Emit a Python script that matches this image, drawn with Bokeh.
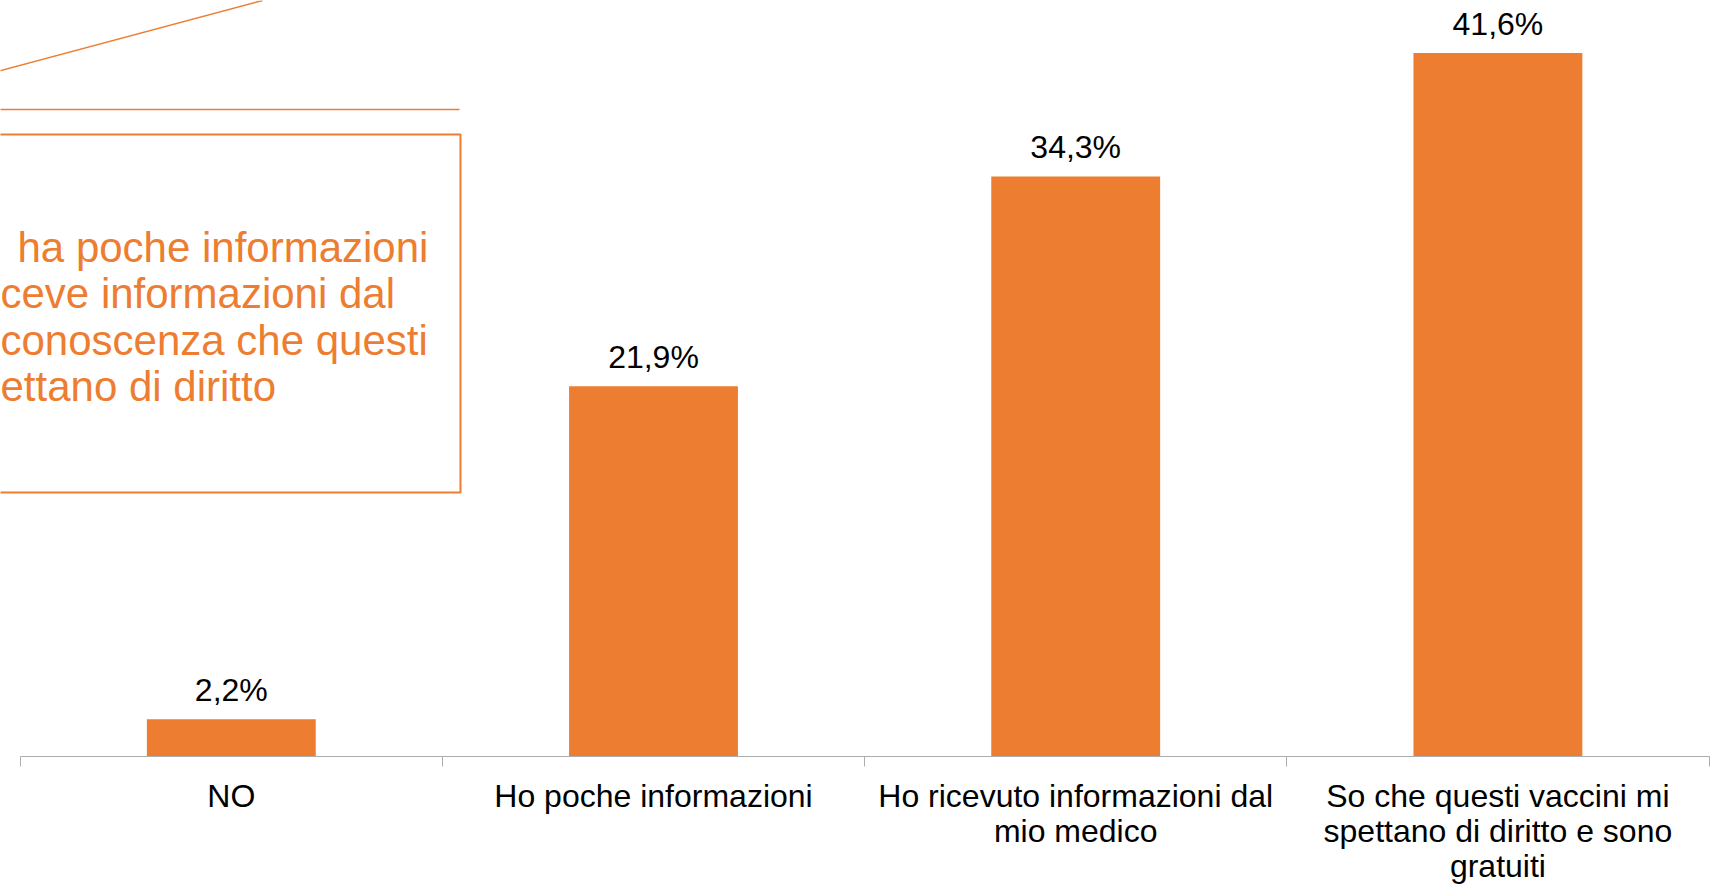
import numpy as np
from bokeh.plotting import figure
from bokeh.core.properties import value
from bokeh.models import (ColumnDataSource, Range1d, LinearAxis, FixedTicker, LabelSet,
                          Label, BoxAnnotation, Arrow)
from bokeh.embed import file_html
from bokeh.resources import INLINE

# ---------------- data ----------------
categories = [
    "NO",
    "Ho poche informazioni",
    "Ho ricevuto informazioni dal\nmio medico",
    "So che questi vaccini mi\nspettano di diritto e sono\ngratuiti",
]
values = [2.2, 21.9, 34.3, 41.6]
value_labels = ["2,2%", "21,9%", "34,3%", "41,6%"]
note_lines = ["ha poche informazioni", "ceve informazioni dal",
              "conoscenza che questi", "ettano di diritto"]

# ---------------- layout / style ----------------
W, H = 1714, 887
LEFT_PAD = 19.7        # px from canvas left to first category boundary
UNIT_PX = 422.2        # px per category
BB = 131
PPU = 16.91            # px per percentage point
ORANGE = "#ED7D31"
AXIS_GRAY = "#ADADAD"
FONT = "Liberation Sans"

n = len(categories)
xs = np.arange(n) + 0.5
FRAME_H = H - BB
Y_END = FRAME_H / PPU

p = figure(width=W, height=H,
           x_range=Range1d(-LEFT_PAD / UNIT_PX, (W - LEFT_PAD) / UNIT_PX),
           y_range=Range1d(0, Y_END),
           output_backend="svg", toolbar_location=None,
           x_axis_location=None, y_axis_location=None,
           min_border_left=0, min_border_right=0, min_border_top=0, min_border_bottom=BB)
p.outline_line_color = None
p.grid.visible = False
p.background_fill_color = "white"

src = ColumnDataSource(dict(x=xs, top=values, label=value_labels))
p.vbar(x="x", top="top", width=0.4, source=src, fill_color=ORANGE, line_color=None)

p.add_layout(LabelSet(x="x", y="top", text="label", source=src, y_offset=18,
                      text_align="center", text_baseline="alphabetic",
                      text_font=value(FONT), text_font_size=value("32px"),
                      text_color=value("black")))

ax = LinearAxis(ticker=FixedTicker(ticks=[float(v) for v in xs],
                                   minor_ticks=[float(v) for v in range(n + 1)]),
                major_label_overrides={float(xv): c for xv, c in zip(xs, categories)},
                bounds=(0, n))
ax.major_tick_out = 0
ax.major_tick_in = 0
ax.minor_tick_out = 10
ax.minor_tick_in = 0
ax.minor_tick_line_color = AXIS_GRAY
ax.axis_line_color = AXIS_GRAY
ax.major_label_text_font = FONT
ax.major_label_text_font_size = "32px"
ax.major_label_text_color = "black"
ax.major_label_text_line_height = 0.98
ax.major_label_standoff = 11
p.add_layout(ax, "below")

# decoration helpers (page pixel -> data coords)
def fx(X):
    return (X - LEFT_PAD) / UNIT_PX
def fy(Y):
    return (FRAME_H - Y) / PPU

p.add_layout(Arrow(end=None, x_start=fx(-20), y_start=fy(75.4), x_end=fx(262), y_end=fy(0),
                   line_color=ORANGE, line_width=1.5))
p.add_layout(Arrow(end=None, x_start=fx(-20), y_start=fy(109), x_end=fx(459), y_end=fy(109),
                   line_color=ORANGE, line_width=1.5))
p.add_layout(BoxAnnotation(left=fx(-20), right=fx(460), top=fy(134), bottom=fy(492),
                           fill_alpha=0, line_color=ORANGE, line_width=2, line_alpha=1))

note_x = [17, 0, 0, 0]
note_base = [247, 293, 340, 386]
for t, X, Y in zip(note_lines, note_x, note_base):
    p.add_layout(Label(x=fx(X), y=fy(Y), text=t, text_align="left", text_baseline="alphabetic",
                       text_font=FONT, text_font_size="42px", text_color=ORANGE))

open("out.html", "w").write(file_html(p, INLINE))
